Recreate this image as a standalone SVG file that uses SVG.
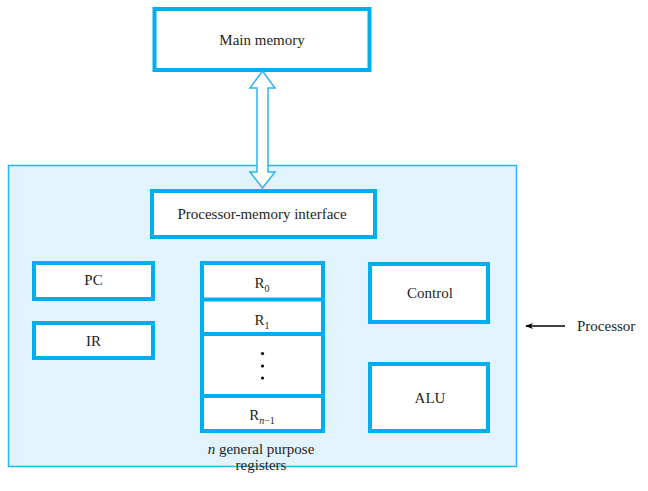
<svg xmlns="http://www.w3.org/2000/svg" width="648" height="491" viewBox="0 0 648 491">
<defs>
<style>
.box{fill:#fff;stroke:#00aeef;stroke-width:4}
.t{font-family:"Liberation Serif","Times New Roman",serif;font-size:15px;fill:#231f20;text-anchor:middle}
</style>
<marker id="ah" viewBox="0 0 10 10" refX="9" refY="5" markerWidth="8" markerHeight="8" markerUnits="userSpaceOnUse" orient="auto"><path d="M0,1 L10,5 L0,9 L3,5 Z" fill="#000"/></marker>
</defs>
<rect width="648" height="491" fill="#fff"/>
<g id="processor">
<rect x="8.5" y="165.5" width="508" height="301" fill="#e1f3fc" stroke="#29b6ef" stroke-width="1.5"/>
</g>
<g id="main-memory">
<rect class="box" x="154.5" y="9" width="215" height="61"/>
<text class="t" x="262" y="45">Main memory</text>
</g>
<g id="pmi">
<rect class="box" x="152" y="191" width="223" height="46"/>
<text class="t" x="262" y="219">Processor-memory interface</text>
</g>
<g id="pc">
<rect class="box" x="34" y="263" width="119" height="36"/>
<text class="t" x="93.5" y="285">PC</text>
</g>
<g id="ir">
<rect class="box" x="34" y="323" width="119" height="35"/>
<text class="t" x="93.5" y="346">IR</text>
</g>
<g id="registers">
<rect class="box" x="202" y="263" width="121" height="168"/>
<line x1="202" y1="299.5" x2="323" y2="299.5" stroke="#00aeef" stroke-width="4"/>
<line x1="202" y1="334" x2="323" y2="334" stroke="#00aeef" stroke-width="4"/>
<line x1="202" y1="396" x2="323" y2="396" stroke="#00aeef" stroke-width="4"/>
<text class="t" x="262" y="288">R<tspan font-size="10" dy="4">0</tspan></text>
<text class="t" x="262" y="325">R<tspan font-size="10" dy="4">1</tspan></text>
<circle cx="262.5" cy="353.5" r="1.6" fill="#000"/>
<circle cx="262.5" cy="366" r="1.6" fill="#000"/>
<circle cx="262.5" cy="378" r="1.6" fill="#000"/>
<text class="t" x="262" y="420">R<tspan font-size="10" dy="4"><tspan font-style="italic">n</tspan>−1</tspan></text>
<text class="t" x="261" y="454" font-size="14"><tspan font-style="italic">n</tspan> general purpose</text>
<text class="t" x="261" y="470" font-size="14">registers</text>
</g>
<g id="control">
<rect class="box" x="370" y="264" width="118" height="58"/>
<text class="t" x="430" y="298">Control</text>
</g>
<g id="alu">
<rect class="box" x="370" y="364" width="118" height="67"/>
<text class="t" x="430" y="403">ALU</text>
</g>
<g id="connectors">
<path d="M262.5,71 L275,88 L268,88 L268,172 L275,172 L262.5,188 L250,172 L257,172 L257,88 L250,88 Z" fill="#fff" stroke="#29b6ef" stroke-width="1.5" stroke-linejoin="miter"/>
<line x1="565" y1="326" x2="526" y2="326" stroke="#000" stroke-width="1.5" marker-end="url(#ah)"/>
</g>
<g id="processor-label">
<text class="t" x="577" y="331" style="text-anchor:start">Processor</text>
</g>
</svg>
